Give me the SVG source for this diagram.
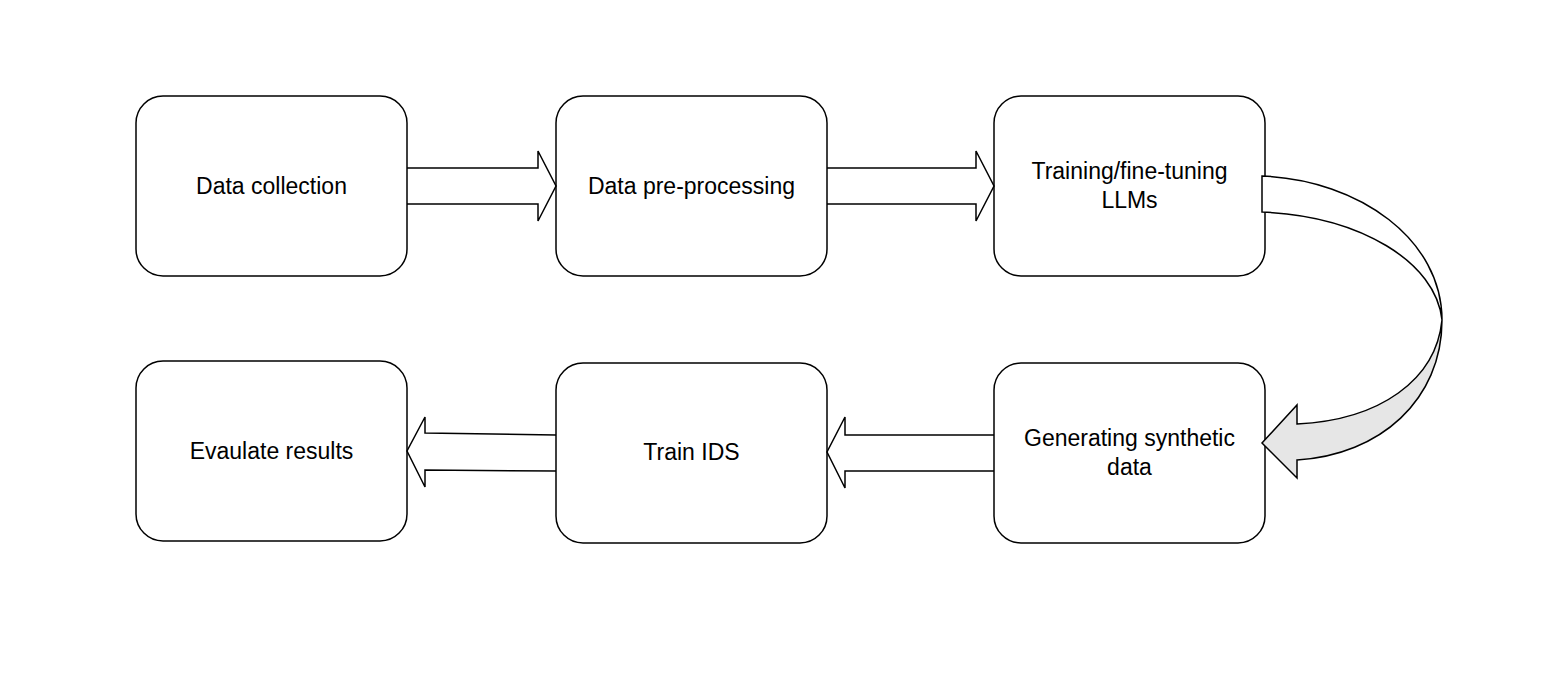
<svg xmlns="http://www.w3.org/2000/svg" width="1554" height="696" viewBox="0 0 1554 696">
<style>
.box{fill:#fff;stroke:#000;stroke-width:1.5}
.arr{fill:none;stroke:#000;stroke-width:1.5;stroke-linejoin:miter}
.curve{fill:#fff;stroke:#000;stroke-width:1.5}
.lbl{font-family:"Liberation Sans",Arial,sans-serif;font-size:23px;fill:#000;text-anchor:middle}
</style>
<rect width="1554" height="696" fill="#fff"/>
<g id="n1"><rect class="box" x="136" y="96" width="271" height="180" rx="27"/><text class="lbl" x="271.5" y="194">Data collection</text></g>
<g id="n2"><rect class="box" x="556" y="96" width="271" height="180" rx="27"/><text class="lbl" x="691.5" y="194">Data pre-processing</text></g>
<g id="n3"><rect class="box" x="994" y="96" width="271" height="180" rx="27"/><text class="lbl" x="1129.5" y="179">Training/fine-tuning</text><text class="lbl" x="1129.5" y="208">LLMs</text></g>
<g id="n4"><rect class="box" x="136" y="361" width="271" height="180" rx="27"/><text class="lbl" x="271.5" y="459">Evaulate results</text></g>
<g id="n5"><rect class="box" x="556" y="363" width="271" height="180" rx="27"/><text class="lbl" x="691.5" y="460">Train IDS</text></g>
<g id="n6"><rect class="box" x="994" y="363" width="271" height="180" rx="27"/><text class="lbl" x="1129.5" y="446">Generating synthetic</text><text class="lbl" x="1129.5" y="475">data</text></g>
<g id="connectors">
<path class="arr" d="M407,168 L538,168 L538,151 L556,186 L538,221 L538,204 L407,204"/>
<path class="arr" d="M827,168 L976,168 L976,151 L994,186 L976,221 L976,204 L827,204"/>
<path class="arr" d="M994,435 L845,435 L845,417 L827,452 L845,488 L845,471 L994,471"/>
<path class="arr" d="M556,435 L425,433 L425,417 L407,451 L425,487 L425,470 L556,471"/>
<path class="curve" d="M1262,176 C1360,180 1442,240 1442,320 C1436,262 1360,216 1262,212 Z"/>
<path fill="#e6e6e6" stroke="#000" stroke-width="1.5" d="M1442,320 C1442,400 1380,455 1297,460 L1297,478 L1262,443 L1297,405 L1297,424 C1380,420 1436,380 1442,320 Z"/>
</g>
</svg>
